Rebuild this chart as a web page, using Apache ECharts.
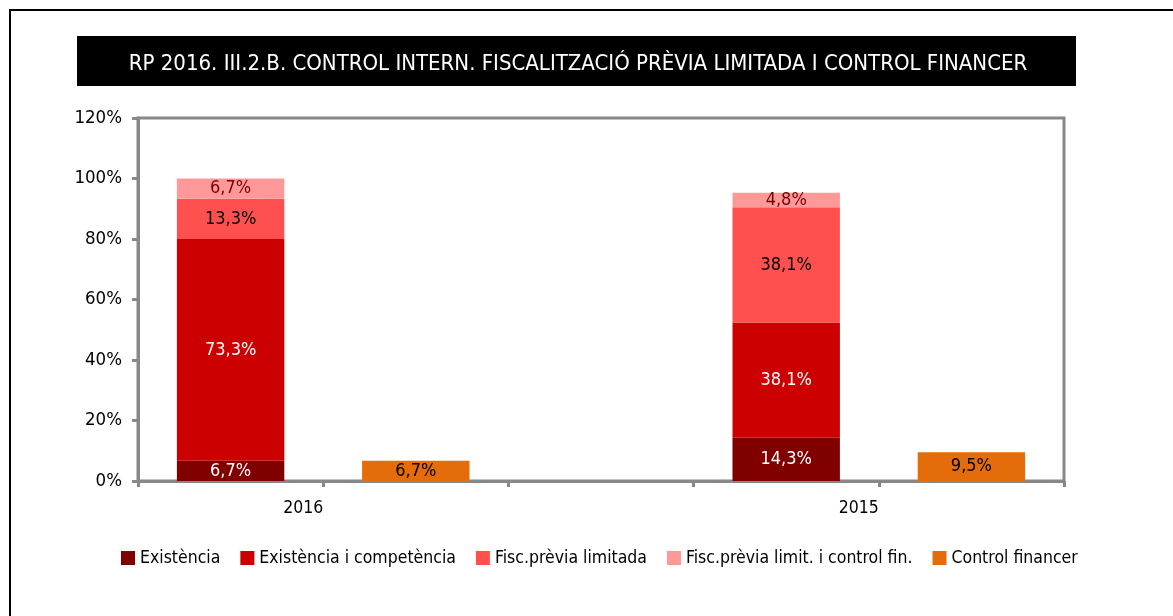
<!DOCTYPE html>
<html>
<head>
    <meta charset="UTF-8">
    <title>RP 2016 Control intern</title>
    <script src="https://cdn.jsdelivr.net/npm/echarts@6/dist/echarts.min.js"></script>
    <style>
        html, body { margin: 0; padding: 0; background: #fff; }
        #main { width: 1173px; height: 616px; }
    </style>
</head>
<body>
<div id="main"></div>
<script type="text/javascript">
    // 5 slots: stacked 2016, control 2016, gap, stacked 2015, control 2015
    var slots = ['2016 a', '2016 b', '', '2015 a', '2015 b'];
    var yearLabels = {1: '2016', 4: '2015'};
    var yTicks = [0, 20, 40, 60, 80, 100, 120];

    var existencia = [6.7, null, null, 14.3, null];
    var existenciaComp = [73.3, null, null, 38.1, null];
    var fiscPrevia = [13.3, null, null, 38.1, null];
    var fiscPreviaCtrl = [6.7, null, null, 4.8, null];
    var controlFin = [null, 6.7, null, null, 9.5];

    var FONT = "'Liberation Sans Narrow', 'DejaVu Sans Condensed', 'Liberation Sans', sans-serif";

    function pct(p) {
        return p.value.toFixed(1).replace('.', ',') + '%';
    }

    function barSeries(name, data, color, labelColor) {
        return {
            name: name,
            type: 'bar',
            stack: 'total',
            xAxisIndex: 0,
            barWidth: '58%',
            data: data,
            itemStyle: { color: color },
            label: {
                show: true,
                position: 'inside',
                formatter: pct,
                color: labelColor,
                fontFamily: FONT,
                fontSize: 18
            }
        };
    }

    var myChart = echarts.init(document.getElementById('main'));

    var option = {
        animation: false,
        textStyle: { fontFamily: FONT },
        title: {
            text: 'RP 2016. III.2.B. CONTROL INTERN. FISCALITZACIÓ PRÈVIA LIMITADA I CONTROL FINANCER',
            left: 573,
            top: 48,
            textAlign: 'center',
            textStyle: {
                color: '#fff',
                fontFamily: FONT,
                fontWeight: 'normal',
                fontSize: 22
            }
        },
        graphic: [
            {
                type: 'rect',
                z: -1,
                shape: { x: 10, y: 10, width: 1200, height: 650 },
                style: { fill: 'none', stroke: '#000', lineWidth: 2 }
            },
            {
                type: 'rect',
                z: -1,
                shape: { x: 77, y: 36, width: 999, height: 50 },
                style: { fill: '#000' }
            }
        ],
        legend: {
            left: 116,
            top: 544,
            icon: 'rect',
            itemWidth: 14,
            itemHeight: 14,
            itemGap: 20,
            textStyle: { color: '#000', fontFamily: FONT, fontSize: 17.5 },
            data: ['Existència', 'Existència i competència', 'Fisc.prèvia limitada',
                'Fisc.prèvia limit. i control fin.', 'Control financer']
        },
        grid: {
            left: 138,
            right: 109,
            top: 118,
            bottom: 135,
            show: true,
            borderColor: '#888',
            borderWidth: 3
        },
        xAxis: [
            {
                type: 'category',
                data: slots,
                axisLine: { show: false },
                axisTick: { show: false },
                axisLabel: { show: false }
            },
            {
                type: 'value',
                position: 'bottom',
                min: 0,
                max: 5,
                interval: 1,
                splitLine: { show: false },
                axisLine: { show: true, lineStyle: { color: '#888', width: 3 } },
                axisTick: { show: true, length: 6, lineStyle: { color: '#888', width: 3 } },
                axisLabel: {
                    color: '#000',
                    fontFamily: FONT,
                    fontSize: 17.5,
                    align: 'right',
                    margin: 18,
                    showMinLabel: true,
                    showMaxLabel: true,
                    formatter: function (v) { return yearLabels[v] || ''; }
                }
            }
        ],
        yAxis: {
            type: 'value',
            min: yTicks[0],
            max: yTicks[yTicks.length - 1],
            interval: 20,
            splitLine: { show: false },
            axisLine: { show: true, onZero: false, lineStyle: { color: '#888', width: 3 } },
            axisTick: { show: true, length: 6, lineStyle: { color: '#888', width: 3 } },
            axisLabel: {
                color: '#000',
                fontFamily: FONT,
                fontSize: 18.5,
                margin: 16,
                formatter: '{value}%'
            }
        },
        series: [
            barSeries('Existència', existencia, '#800000', '#fff'),
            barSeries('Existència i competència', existenciaComp, '#CC0000', '#fff'),
            barSeries('Fisc.prèvia limitada', fiscPrevia, '#FF5050', '#000'),
            barSeries('Fisc.prèvia limit. i control fin.', fiscPreviaCtrl, '#FF9999', '#7a0000'),
            barSeries('Control financer', controlFin, '#E46C0A', '#000')
        ]
    };

    myChart.setOption(option);
</script>
</body>
</html>
